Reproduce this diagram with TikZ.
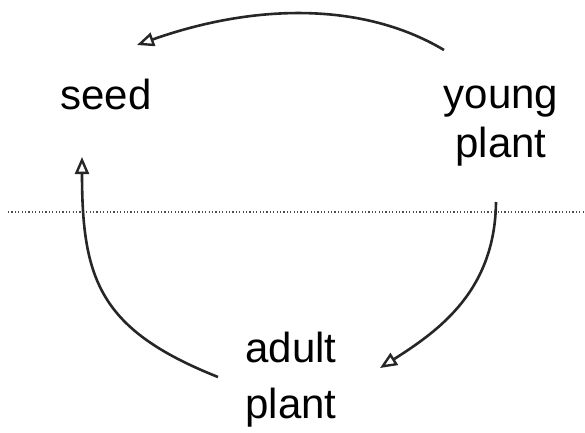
\documentclass[tikz,border=0pt]{standalone}
\usepackage{fontspec}
\setmainfont{Liberation Sans}
\usetikzlibrary{arrows.meta}

\begin{document}
\begin{tikzpicture}[x=1pt, y=1pt,
    lbl/.style={align=center, inner sep=0pt, anchor=base,
                font=\fontsize{42}{49}\selectfont},
    cyc/.style={-{Triangle[open, length=17pt, width=14pt, line width=2.4pt]},
                line width=2.6pt, black!85}]
  \useasboundingbox (0,0) rectangle (585,432);
  % dotted divider
  \draw[line width=1.1pt, black!70, dash pattern=on 1.2pt off 2.2pt] (8,220) -- (585,220);
  % stages
  \node[lbl] (seed) at (106,323) {seed};
  \node[lbl] (young) at (501,275) {young\\plant};
  \node[lbl] (adult) at (291,14) {adult\\[7pt]plant};
  % cycle arrows
  \draw[cyc] ([shift={(-57,107)}]young.base)
    .. controls +(-84,50) and +(113,40) .. ([shift={(31,64)}]seed.base);
  \draw[cyc] ([shift={(-5,-45)}]young.base)
    .. controls +(-1,-88) and +(60,38) .. ([shift={(89,50)}]adult.base);
  \draw[cyc] ([shift={(-73,41)}]adult.base)
    .. controls +(-118,47) and +(0,-123) .. ([shift={(-24,-48)}]seed.base);
\end{tikzpicture}
\end{document}
